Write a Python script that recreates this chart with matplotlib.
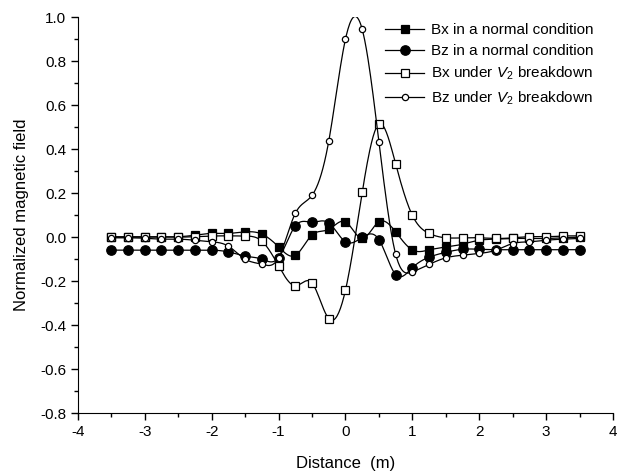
import numpy as np
import matplotlib.pyplot as plt
from matplotlib.ticker import MultipleLocator

plt.rcParams['font.family'] = ['Liberation Sans', 'DejaVu Sans']
plt.rcParams['mathtext.fontset'] = 'custom'
plt.rcParams['mathtext.it'] = 'Liberation Sans:italic'
plt.rcParams['mathtext.rm'] = 'Liberation Sans'
plt.rcParams['axes.unicode_minus'] = False

#Distance along the line (m)
distance = np.arange(-3.5, 3.51, 0.25)

#Normalized field values
bx_normal = [0.002, 0.002, 0.002, 0.002, 0.002, 0.009, 0.017, 0.017, 0.024, 0.014,
             -0.044, -0.083, 0.010, 0.035, 0.070, -0.006, 0.070, 0.024, -0.058, -0.058,
             -0.045, -0.032, -0.014, -0.009, -0.006, -0.006, -0.006, -0.003, 0.000]
bz_normal = [-0.059, -0.059, -0.059, -0.059, -0.059, -0.059, -0.059, -0.067, -0.086, -0.100,
             -0.094, 0.051, 0.068, 0.065, -0.021, -0.001, -0.011, -0.170, -0.139, -0.091,
             -0.069, -0.055, -0.055, -0.057, -0.057, -0.057, -0.057, -0.057, -0.057]
bx_v2 = [0.000, 0.000, 0.000, 0.000, 0.000, 0.002, 0.005, 0.006, 0.005, -0.018,
         -0.130, -0.221, -0.208, -0.370, -0.241, 0.203, 0.514, 0.333, 0.099, 0.017,
         -0.003, -0.003, -0.003, -0.006, -0.003, 0.002, 0.002, 0.005, 0.006]
bz_v2 = [-0.003, -0.003, -0.005, -0.009, -0.009, -0.014, -0.021, -0.041, -0.100, -0.123,
         -0.094, 0.108, 0.190, 0.436, 0.900, 0.945, 0.433, -0.077, -0.158, -0.124,
         -0.094, -0.082, -0.074, -0.059, -0.029, -0.021, -0.014, -0.009, -0.006]

labels = ['Bx in a normal condition', 'Bz in a normal condition',
          r'Bx under $V_2$ breakdown', r'Bz under $V_2$ breakdown']


#Natural cubic spline so the connecting lines are smooth like the original
def spline(x, y, n=20):
    x = np.asarray(x, float)
    y = np.asarray(y, float)
    h = np.diff(x)
    m = len(x)
    A = np.zeros((m, m))
    r = np.zeros(m)
    A[0, 0] = A[-1, -1] = 1
    for i in range(1, m - 1):
        A[i, i - 1] = h[i - 1]
        A[i, i] = 2 * (h[i - 1] + h[i])
        A[i, i + 1] = h[i]
        r[i] = 6 * ((y[i + 1] - y[i]) / h[i] - (y[i] - y[i - 1]) / h[i - 1])
    M = np.linalg.solve(A, r)
    xs, ys = [], []
    for i in range(m - 1):
        t = np.linspace(x[i], x[i + 1], n, endpoint=False)
        a = x[i + 1] - t
        b = t - x[i]
        s = (M[i] * a**3 + M[i + 1] * b**3) / (6 * h[i]) \
            + (y[i] / h[i] - M[i] * h[i] / 6) * a \
            + (y[i + 1] / h[i] - M[i + 1] * h[i] / 6) * b
        xs.extend(t)
        ys.extend(s)
    xs.append(x[-1])
    ys.append(y[-1])
    return np.array(xs), np.array(ys)


fig = plt.figure(figsize=(6.18, 4.76), dpi=100)
ax = fig.add_axes([0.126, 0.132, 0.866, 0.832])

styles = [dict(marker='s', mfc='black', ms=5.8),
          dict(marker='o', mfc='black', ms=6.8),
          dict(marker='s', mfc='white', ms=5.8),
          dict(marker='o', mfc='white', ms=4.5)]
series = [bx_normal, bz_normal, bx_v2, bz_v2]

for y, st, lab in zip(series, styles, labels):
    sx, sy = spline(distance, y)
    ax.plot(sx, sy, color='black', lw=0.9)
    ax.plot(distance, y, ls='none', mec='black', mew=0.9, **st)
    ax.plot([], [], color='black', lw=0.9, mec='black', mew=0.9, label=lab, **st)

ax.set_xlim(-4, 4)
ax.set_ylim(-0.8, 1.0)
ax.xaxis.set_major_locator(MultipleLocator(1))
ax.xaxis.set_minor_locator(MultipleLocator(0.5))
ax.yaxis.set_major_locator(MultipleLocator(0.2))
ax.yaxis.set_minor_locator(MultipleLocator(0.1))
ax.yaxis.set_major_formatter(plt.FormatStrFormatter('%.1f'))
ax.tick_params(which='both', direction='out', width=1, labelsize=11)
ax.tick_params(which='major', length=5)
ax.tick_params(which='minor', length=3)
ax.spines['top'].set_visible(False)
ax.spines['right'].set_visible(False)
ax.set_xlabel('Distance  (m)', fontsize=12, labelpad=12)
ax.set_ylabel('Normalized magnetic field', fontsize=12, labelpad=8)

ax.legend(loc='upper left', bbox_to_anchor=(0.562, 1.0), frameon=False, fontsize=11,
          handlelength=2.6, labelspacing=0.45, handletextpad=0.4, borderaxespad=0)

fig.savefig('out.png', dpi=100)
